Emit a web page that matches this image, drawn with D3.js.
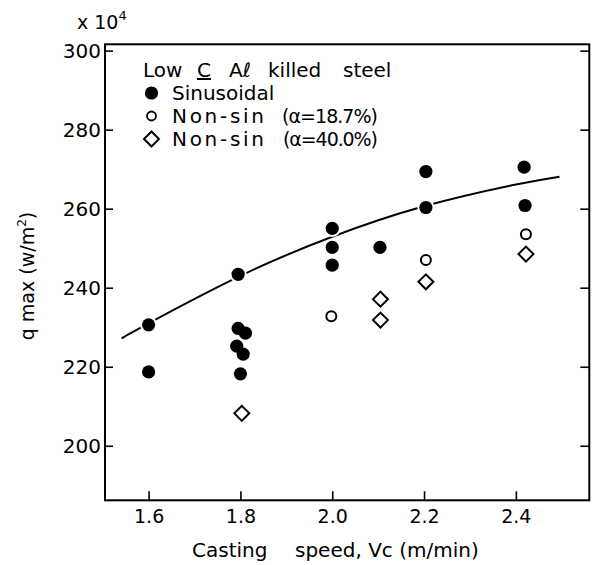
<!DOCTYPE html>
<html>
<head>
<meta charset="utf-8">
<script src="https://cdn.jsdelivr.net/npm/d3@7"></script>
<style>
  html, body { margin: 0; padding: 0; background: #fff; }
  svg { display: block; font-family: "DejaVu Sans", sans-serif; }
  text { fill: #000; }
</style>
</head>
<body>
<svg id="chart" width="593" height="565"></svg>
<script>
// Sinusoidal oscillation (filled circles)
const sinSpeed = [1.60, 1.60, 1.795, 1.795, 1.811, 1.792, 1.806, 1.80, 2.00, 2.00, 2.00, 2.104, 2.204, 2.204, 2.418, 2.42];
const sinQ     = [230.6, 218.7, 243.4, 229.7, 228.5, 225.2, 223.2, 218.2, 255.0, 250.2, 245.7, 250.2, 269.4, 260.3, 270.5, 260.8];

// Non-sinusoidal, alpha = 18.7 % (open circles)
const ns187Speed = [1.998, 2.204, 2.422];
const ns187Q     = [232.8, 247.0, 253.5];

// Non-sinusoidal, alpha = 40.0 % (open diamonds)
const ns400Speed = [1.803, 2.105, 2.105, 2.204, 2.422];
const ns400Q     = [208.2, 237.1, 231.8, 241.5, 248.5];

// Trend curve through the sinusoidal data
const fitSpeed = [1.541, 1.60, 1.80, 2.00, 2.20, 2.40, 2.495];
const fitQ     = [227.2, 231.0, 243.0, 252.9, 260.6, 266.1, 268.1];

// Axis ticks
const xTicks = [1.6, 1.8, 2.0, 2.2, 2.4];
const xTickLabels = ["1.6", "1.8", "2.0", "2.2", "2.4"];
const yTicks = [200, 220, 240, 260, 280, 300];

const svg = d3.select("#chart");

const plotLeft = 105, plotRight = 589.3, plotTop = 44.3, plotBottom = 500.3;
const x = d3.scaleLinear().domain([1.505, 2.56]).range([plotLeft, plotRight]);
const y = d3.scaleLinear().domain([186.2, 301.6]).range([plotBottom, plotTop]);

// Frame
svg.append("rect")
  .attr("x", plotLeft).attr("y", plotTop)
  .attr("width", plotRight - plotLeft).attr("height", plotBottom - plotTop)
  .attr("fill", "none").attr("stroke", "#000").attr("stroke-width", 2);

// Left axis: inward ticks, labels outside
const yAxis = svg.append("g")
  .attr("transform", `translate(${plotLeft},0)`)
  .call(d3.axisLeft(y).tickValues(yTicks).tickSizeInner(-8).tickSizeOuter(0).tickPadding(4).tickFormat(d3.format("d")));
yAxis.select(".domain").remove();
yAxis.selectAll("line").attr("stroke-width", 1.6);
yAxis.selectAll("text").attr("font-size", 20).attr("font-family", "DejaVu Sans").attr("fill", "#000");

// Right axis: inward ticks only
const yAxisR = svg.append("g")
  .attr("transform", `translate(${plotRight},0)`)
  .call(d3.axisRight(y).tickValues(yTicks).tickSizeInner(-9).tickSizeOuter(0).tickFormat(""));
yAxisR.select(".domain").remove();
yAxisR.selectAll("line").attr("stroke-width", 1.6);

// Bottom axis: inward ticks, labels below
const xAxis = svg.append("g")
  .attr("transform", `translate(0,${plotBottom})`)
  .call(d3.axisBottom(x).tickValues(xTicks).tickSizeInner(-9).tickSizeOuter(0).tickPadding(9)
    .tickFormat((d, i) => xTickLabels[i]));
xAxis.select(".domain").remove();
xAxis.selectAll("line").attr("stroke-width", 1.6);
xAxis.selectAll("text").attr("font-size", 19).attr("font-family", "DejaVu Sans").attr("fill", "#000");

// Exponent note above the y axis
const expo = svg.append("text").attr("x", 77).attr("y", 29).attr("font-size", 19);
expo.append("tspan").text("x 10");
expo.append("tspan").attr("font-size", 13).attr("dy", -9).text("4");

// Axis titles
const yTitle = svg.append("text")
  .attr("transform", "translate(34,276) rotate(-90)")
  .attr("text-anchor", "middle")
  .attr("font-size", 19);
yTitle.append("tspan").text("q max  (w/m");
yTitle.append("tspan").attr("font-size", 12).attr("dy", -8).text("2");
yTitle.append("tspan").attr("dy", 8).text(")");

svg.append("text").attr("x", 192).attr("y", 557).attr("font-size", 20).text("Casting");
svg.append("text").attr("x", 295).attr("y", 557).attr("font-size", 20).text("speed, Vc (m/min)");

// Trend curve
const plotG = svg.append("g");
plotG.append("path")
  .datum(fitSpeed.map((s, i) => [s, fitQ[i]]))
  .attr("d", d3.line().x(d => x(d[0])).y(d => y(d[1])).curve(d3.curveNatural))
  .attr("fill", "none").attr("stroke", "#000").attr("stroke-width", 2);

const sinData = sinSpeed.map((s, i) => [s, sinQ[i]]);

// White halos leave a small gap where the curve meets a filled marker
plotG.selectAll("circle.halo").data(sinData).join("circle")
  .attr("class", "halo")
  .attr("cx", d => x(d[0])).attr("cy", d => y(d[1])).attr("r", 8.5)
  .attr("fill", "#fff");

plotG.selectAll("circle.sin").data(sinData).join("circle")
  .attr("class", "sin")
  .attr("cx", d => x(d[0])).attr("cy", d => y(d[1])).attr("r", 6.6)
  .attr("fill", "#000");

plotG.selectAll("circle.ns187").data(ns187Speed.map((s, i) => [s, ns187Q[i]])).join("circle")
  .attr("class", "ns187")
  .attr("cx", d => x(d[0])).attr("cy", d => y(d[1])).attr("r", 5)
  .attr("fill", "#fff").attr("stroke", "#000").attr("stroke-width", 2);

const diamond = d3.symbol().type(d3.symbolSquare).size(112);
plotG.selectAll("path.ns400").data(ns400Speed.map((s, i) => [s, ns400Q[i]])).join("path")
  .attr("class", "ns400")
  .attr("d", diamond)
  .attr("transform", d => `translate(${x(d[0])},${y(d[1])}) rotate(45)`)
  .attr("fill", "#fff").attr("stroke", "#000").attr("stroke-width", 2);

// Legend
const lg = svg.append("g").attr("font-size", 20);
const titleWords = [["Low", 143], ["C", 197], ["A\u2113", 229], ["killed", 268], ["steel", 343]];
titleWords.forEach(([w, px]) => {
  const t = lg.append("text").attr("x", px).attr("y", 77).text(w);
  if (w === "C") t.attr("text-decoration", "underline");
});

lg.append("circle").attr("cx", 151.5).attr("cy", 93).attr("r", 6.6).attr("fill", "#000");
lg.append("text").attr("x", 172).attr("y", 100).text("Sinusoidal");

lg.append("circle").attr("cx", 151.5).attr("cy", 116).attr("r", 4.5)
  .attr("fill", "#fff").attr("stroke", "#000").attr("stroke-width", 1.8);
lg.append("text").attr("x", 172).attr("y", 123)
  .attr("textLength", 92).attr("lengthAdjust", "spacing").text("Non-sin");
lg.append("text").attr("x", 282).attr("y", 123).attr("font-size", 19)
  .attr("textLength", 96).attr("lengthAdjust", "spacing").text("(\u03b1=18.7%)");

lg.append("path").attr("d", diamond)
  .attr("transform", "translate(151.5,139) rotate(45)")
  .attr("fill", "#fff").attr("stroke", "#000").attr("stroke-width", 2);
lg.append("text").attr("x", 172).attr("y", 146)
  .attr("textLength", 92).attr("lengthAdjust", "spacing").text("Non-sin");
lg.append("text").attr("x", 283).attr("y", 146).attr("font-size", 19)
  .attr("textLength", 95).attr("lengthAdjust", "spacing").text("(\u03b1=40.0%)");
</script>
</body>
</html>
